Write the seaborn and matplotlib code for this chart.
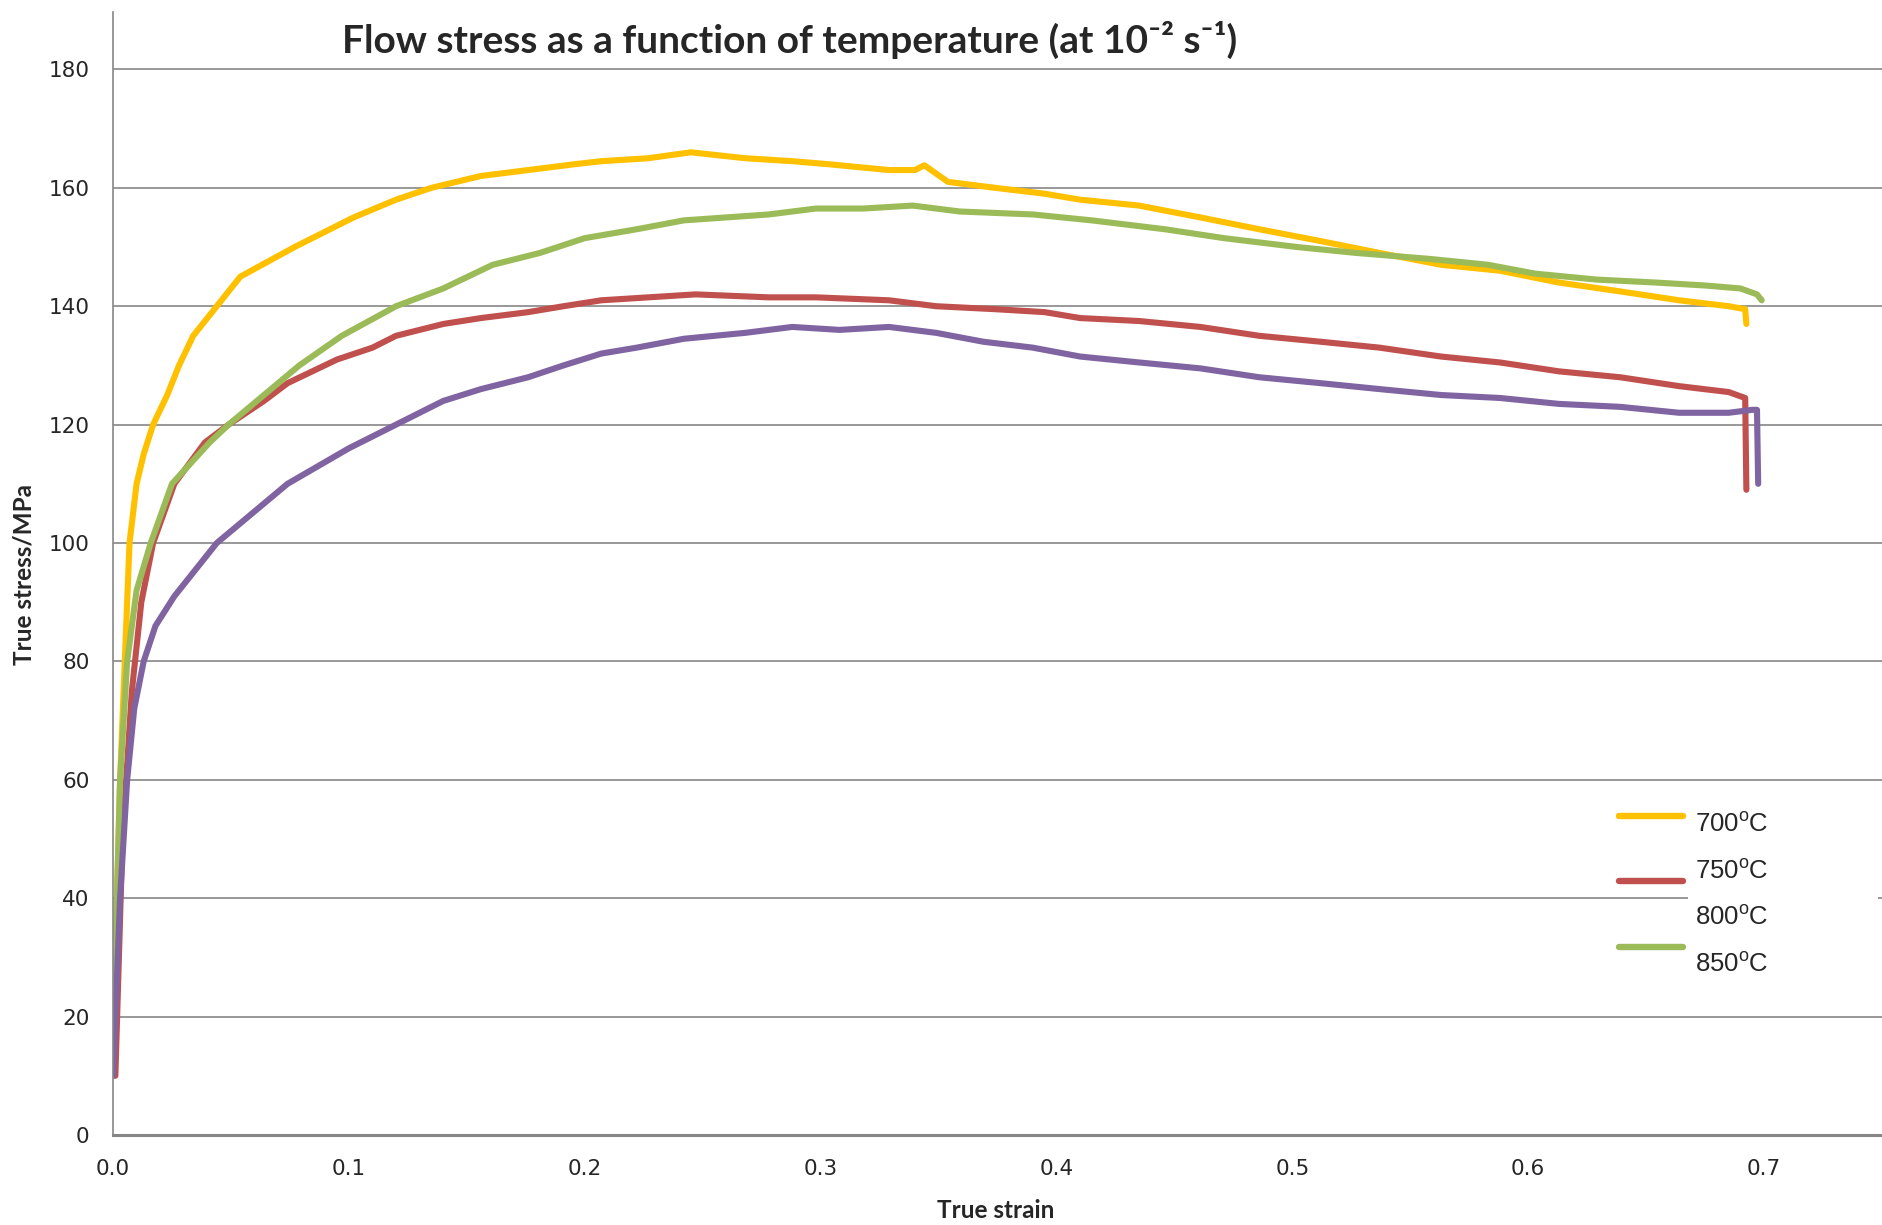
import numpy as np
import pandas as pd
import matplotlib
matplotlib.use("Agg")
import matplotlib.pyplot as plt
import seaborn as sns
from matplotlib.lines import Line2D
from matplotlib.patches import Rectangle

# ---------------- data ----------------
strain_700 = [0.0, 0.001, 0.003, 0.007, 0.010, 0.013, 0.017, 0.023, 0.028, 0.034, 0.044, 0.054,
              0.077, 0.102, 0.120, 0.135, 0.156, 0.176, 0.196, 0.207, 0.227, 0.245, 0.268, 0.288,
              0.303, 0.329, 0.340, 0.344, 0.354, 0.374, 0.395, 0.410, 0.435, 0.461, 0.486, 0.512,
              0.537, 0.563, 0.588, 0.613, 0.639, 0.664, 0.685, 0.692, 0.6925]
stress_700 = [10, 30, 60, 100, 110, 115, 120, 125, 130, 135, 140, 145,
              150, 155, 158, 160, 162, 163, 164, 164.5, 165, 166, 165, 164.5,
              164, 163, 163, 163.8, 161, 160, 159, 158, 157, 155, 153, 151,
              149, 147, 146, 144, 142.5, 141, 140, 139.5, 137]

strain_750 = [0.001, 0.004, 0.008, 0.012, 0.017, 0.026, 0.039, 0.049, 0.064, 0.074, 0.095, 0.110,
              0.120, 0.140, 0.156, 0.176, 0.191, 0.207, 0.227, 0.247, 0.278, 0.298, 0.329, 0.349,
              0.374, 0.395, 0.410, 0.435, 0.461, 0.486, 0.512, 0.537, 0.563, 0.588, 0.613, 0.639,
              0.664, 0.685, 0.692, 0.6925]
stress_750 = [10, 50, 75, 90, 100, 110, 117, 120, 124, 127, 131, 133,
              135, 137, 138, 139, 140, 141, 141.5, 142, 141.5, 141.5, 141, 140,
              139.5, 139, 138, 137.5, 136.5, 135, 134, 133, 131.5, 130.5, 129, 128,
              126.5, 125.5, 124.5, 109]

strain_800 = [0.0, 0.003, 0.006, 0.010, 0.016, 0.025, 0.041, 0.049, 0.064, 0.079, 0.097, 0.120,
              0.140, 0.161, 0.181, 0.200, 0.222, 0.242, 0.278, 0.298, 0.318, 0.339, 0.359, 0.390,
              0.415, 0.446, 0.471, 0.502, 0.527, 0.558, 0.583, 0.603, 0.629, 0.654, 0.675, 0.690,
              0.697, 0.699]
stress_800 = [15, 60, 80, 92, 100, 110, 117, 120, 125, 130, 135, 140,
              143, 147, 149, 151.5, 153, 154.5, 155.5, 156.5, 156.5, 157, 156, 155.5,
              154.5, 153, 151.5, 150, 149, 148, 147, 145.5, 144.5, 144, 143.5, 143,
              142, 141]

strain_850 = [0.0, 0.003, 0.006, 0.009, 0.013, 0.018, 0.026, 0.034, 0.044, 0.059, 0.074, 0.087,
              0.100, 0.115, 0.125, 0.140, 0.156, 0.176, 0.191, 0.207, 0.222, 0.242, 0.268, 0.288,
              0.308, 0.329, 0.349, 0.369, 0.390, 0.410, 0.435, 0.461, 0.486, 0.512, 0.537, 0.563,
              0.588, 0.613, 0.639, 0.664, 0.685, 0.695, 0.697, 0.6975]
stress_850 = [10, 40, 60, 72, 80, 86, 91, 95, 100, 105, 110, 113,
              116, 119, 121, 124, 126, 128, 130, 132, 133, 134.5, 135.5, 136.5,
              136, 136.5, 135.5, 134, 133, 131.5, 130.5, 129.5, 128, 127, 126, 125,
              124.5, 123.5, 123, 122, 122, 122.5, 122.5, 110]

temps = ["700", "750", "800", "850"]
colors = ["#FFC000", "#C0504D", "#9BBB59", "#8064A2"]
legend_labels = ["700$^{\\mathrm{o}}$C", "750$^{\\mathrm{o}}$C", "800$^{\\mathrm{o}}$C", "850$^{\\mathrm{o}}$C"]
x_ticks = [0.0, 0.1, 0.2, 0.3, 0.4, 0.5, 0.6, 0.7]
y_ticks = [0, 20, 40, 60, 80, 100, 120, 140, 160, 180]

frames = []
for t, xs, ys in zip(temps,
                     [strain_700, strain_750, strain_800, strain_850],
                     [stress_700, stress_750, stress_800, stress_850]):
    frames.append(pd.DataFrame({"strain": xs, "stress": ys, "temp": t}))
df = pd.concat(frames, ignore_index=True)

# ---------------- style ----------------
sns.set_style("white")
plt.rcParams["font.family"] = ["DejaVu Sans"]
plt.rcParams["mathtext.fontset"] = "custom"
plt.rcParams["mathtext.rm"] = "Liberation Sans"
plt.rcParams["mathtext.bf"] = "Lato:bold"

fig = plt.figure(figsize=(18.82, 12.25), dpi=100)
ax = fig.add_axes([113 / 1882, 1 - 1135 / 1225, 1 - 113 / 1882, (1135 - 12) / 1225])

sns.lineplot(data=df, x="strain", y="stress", hue="temp", palette=dict(zip(temps, colors)),
             sort=False, estimator=None, units="temp", legend=False, linewidth=4.4, ax=ax)

ax.set_xlim(0, 0.75)
ax.set_ylim(0, 189.7)
ax.set_xticks(x_ticks)
ax.set_xticklabels([f"{v:.1f}" for v in x_ticks], fontsize=15.5)
ax.set_yticks(y_ticks)
ax.set_yticklabels([str(v) for v in y_ticks], fontsize=15.5)
ax.tick_params(axis="both", direction="out", length=7, width=1, color="#868686", pad=10)
ax.yaxis.grid(True, color="#868686", linewidth=1.2)
ax.set_axisbelow(True)
for s in ["top", "right"]:
    ax.spines[s].set_visible(False)
ax.spines["left"].set_color("#868686")
ax.spines["left"].set_linewidth(1.2)
ax.spines["bottom"].set_color("#868686")
ax.spines["bottom"].set_linewidth(2.2)
ax.set_xlabel("")
ax.set_ylabel("")

fig.text(996 / 1882, 1 - 1210 / 1225, "True strain", ha="center", va="center",
         fontsize=17.5, fontweight="bold", family="Lato")
fig.text(24 / 1882, 1 - 574 / 1225, "True stress/MPa", ha="center", va="center",
         rotation=90, fontsize=17.5, fontweight="bold", family="Lato")
fig.text(790 / 1882, 1 - 40 / 1225,
         "Flow stress as a function of temperature (at 10\u207b\u00b2 s\u207b\u00b9)",
         ha="center", va="center", fontsize=28, fontweight="bold", family=["Lato", "DejaVu Sans"])

# legend handles (their labels are hidden behind a white label box in the reference)
handles = [Line2D([], [], color=c, linewidth=4.6, solid_capstyle="round") for c in colors[:3]]
leg = ax.legend(handles, [" ", " ", " "], loc="upper left",
                bbox_to_anchor=(1607 / 1882, 1 - 795 / 1225), bbox_transform=fig.transFigure,
                frameon=False, handlelength=2.7, handletextpad=0.3, labelspacing=1.85,
                borderpad=0, prop={"family": "Liberation Sans", "size": 17})
fig.patches.append(Rectangle((1688 / 1882, 1 - 986 / 1225), 190 / 1882, 188 / 1225,
                             transform=fig.transFigure, facecolor="white", edgecolor="none",
                             zorder=5))
fig.text(1695 / 1882, 1 - 812 / 1225, "\n".join(legend_labels), ha="left", va="top",
         fontsize=18.5, family="Liberation Sans", linespacing=2.12, zorder=6)

fig.savefig("out.png", dpi=100)
